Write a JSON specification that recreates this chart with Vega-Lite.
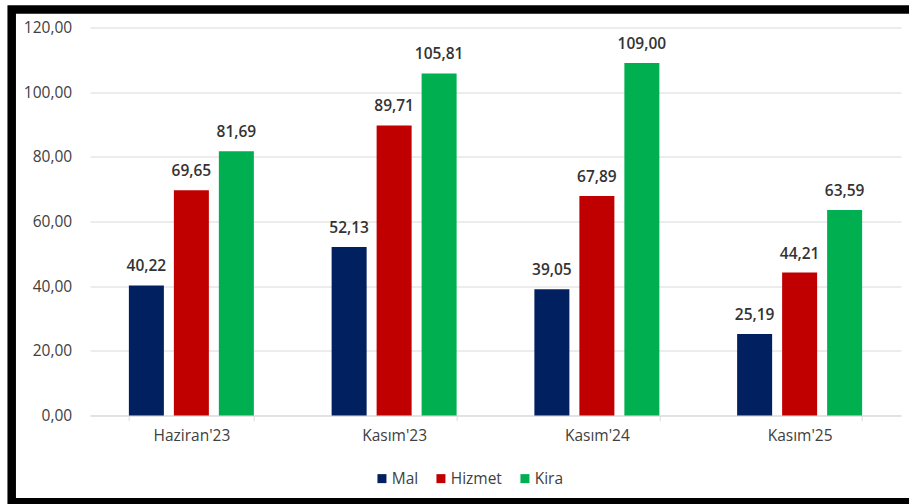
{
  "$schema": "https://vega.github.io/schema/vega-lite/v6.json",
  "width": 923.3,
  "height": 492.75,
  "autosize": {"type": "none"},
  "padding": {"left": 11.7, "top": 9.5, "right": -26, "bottom": 1.75},
  "background": "white",
  "config": {
    "locale": {"number": {"decimal": ",", "thousands": ".", "grouping": [3], "currency": ["", " TL"]}},
    "view": {"stroke": "black", "strokeWidth": 8.5, "fill": "white"},
    "font": "Open Sans"
  },
  "data": {
    "values": [
      {"donem": "Haziran'23", "tur": "Mal", "deger": 40.22},
      {"donem": "Haziran'23", "tur": "Hizmet", "deger": 69.65},
      {"donem": "Haziran'23", "tur": "Kira", "deger": 81.69},
      {"donem": "Kasım'23", "tur": "Mal", "deger": 52.13},
      {"donem": "Kasım'23", "tur": "Hizmet", "deger": 89.71},
      {"donem": "Kasım'23", "tur": "Kira", "deger": 105.81},
      {"donem": "Kasım'24", "tur": "Mal", "deger": 39.05},
      {"donem": "Kasım'24", "tur": "Hizmet", "deger": 67.89},
      {"donem": "Kasım'24", "tur": "Kira", "deger": 109.00},
      {"donem": "Kasım'25", "tur": "Mal", "deger": 25.19},
      {"donem": "Kasım'25", "tur": "Hizmet", "deger": 44.21},
      {"donem": "Kasım'25", "tur": "Kira", "deger": 63.59}
    ]
  },
  "encoding": {
    "x": {
      "field": "donem",
      "type": "nominal",
      "sort": ["Haziran'23", "Kasım'23", "Kasım'24", "Kasım'25"],
      "scale": {"range": [78.3, 889.3], "paddingInner": 0.3835, "paddingOuter": 0.19175},
      "axis": {
        "title": null,
        "orient": "bottom",
        "offset": -86.75,
        "domainColor": "#D9D9D9",
        "domainWidth": 1,
        "tickColor": "#D9D9D9",
        "tickSize": 5,
        "tickBand": "extent",
        "labelPadding": 8,
        "labelFontSize": 15.5,
        "labelColor": "#404040",
        "labelAngle": 0,
        "grid": false
      }
    },
    "xOffset": {
      "field": "tur",
      "type": "nominal",
      "sort": ["Mal", "Hizmet", "Kira"],
      "scale": {"paddingInner": 0.222, "paddingOuter": 0}
    },
    "y": {
      "field": "deger",
      "type": "quantitative",
      "scale": {"domain": [0, 120], "range": [406, 18], "nice": false, "zero": true},
      "axis": {
        "title": null,
        "values": [0, 20, 40, 60, 80, 100, 120],
        "format": ".2f",
        "domain": false,
        "ticks": false,
        "offset": -60,
        "labelPadding": 0,
        "labelFontSize": 15.5,
        "labelColor": "#404040",
        "grid": true,
        "gridColor": "#D9D9D9",
        "gridWidth": 1
      }
    }
  },
  "layer": [
    {
      "mark": {"type": "bar"},
      "encoding": {
        "color": {
          "field": "tur",
          "type": "nominal",
          "scale": {"domain": ["Mal", "Hizmet", "Kira"], "range": ["#002060", "#C00000", "#00B050"]},
          "legend": {
            "title": null,
            "orient": "none",
            "legendX": 362.5,
            "legendY": 461,
            "direction": "horizontal",
            "columns": 3,
            "symbolType": "square",
            "symbolSize": 81,
            "symbolStrokeWidth": 0,
            "labelFontSize": 15.5,
            "labelColor": "#404040",
            "labelOffset": 2,
            "columnPadding": 15,
            "padding": 0
          }
        }
      }
    },
    {
      "mark": {"type": "text", "dy": -14, "baseline": "alphabetic", "fontSize": 15.5, "fontWeight": 600, "color": "#333333"},
      "encoding": {
        "text": {"field": "deger", "type": "quantitative", "format": ".2f"}
      }
    }
  ]
}
